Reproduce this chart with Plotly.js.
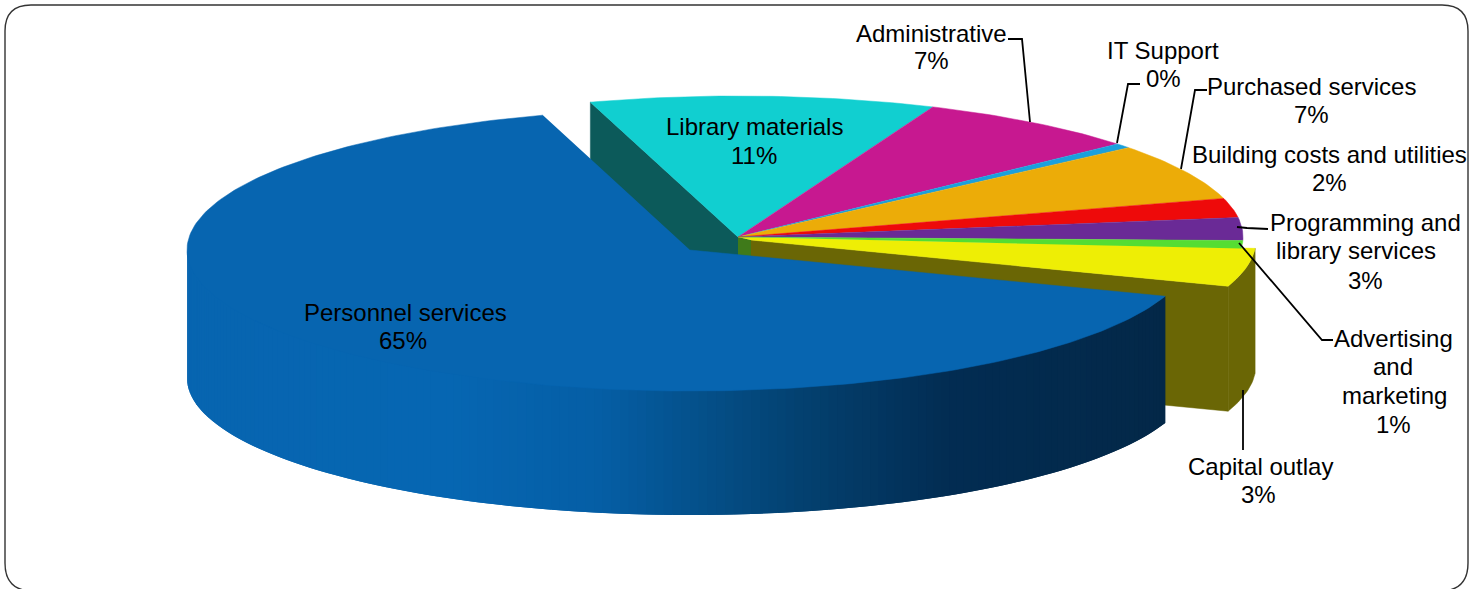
<!DOCTYPE html>
<html>
<head>
<meta charset="utf-8">
<script src="https://cdn.plot.ly/plotly-3.0.1.min.js"></script>
<style>html,body{margin:0;padding:0;background:#fff}#chart{width:1475px;height:589px}</style>
</head>
<body>
<div id="chart"></div>
<script>
// Slices, clockwise from the Library materials leading edge
var categories = ['Library materials','Administrative','IT Support','Purchased services','Building costs and utilities','Programming and library services','Advertising and marketing','Capital outlay','Personnel services'];
var shares = [11.0, 7.2, 0.55, 6.5, 2.2, 2.6, 0.9, 4.0, 64.8];
var percentLabels = ['11%','7%','0%','7%','2%','3%','1%','3%','65%'];
var topColors = ['#11cfd0','#c71890','#1aa0dd','#ecac08','#ee0a0a','#6a2a96','#55dd33','#eeee05','#0765b0'];

// Text lines: text, centre x, centre y
var labelText = ['Personnel services','65%','Library materials','11%','Administrative','7%','IT Support','0%','Purchased services','7%','Building costs and utilities','2%','Programming and','library services','3%','Advertising','and','marketing','1%','Capital outlay','3%'];
var labelX = [405,403,754,754,931,931,1163,1163,1311,1311,1329,1329,1365,1356,1365,1393,1393,1394,1393,1260,1258];
var labelY = [312,340,126,155,33,60,50,78,86,114,154,182,222,250,280,338,366,395,424,466,494];

// Leader lines
var leaderPaths = [
  'M1008,39 L1022,39 L1030,122',
  'M1140,84 L1128,84 L1117,143',
  'M1207,90 L1195,90 L1181,169',
  'M1268,229 L1247,228 L1237,227',
  'M1239,243 L1322,340 L1333,340',
  'M1243,390 L1243,450'
];

// Wall gradient for the large slice: screen x and colour
var wallStopX = [187,450,600,700,800,950,1165];
var wallStopColor = [[7,101,176],[6,102,178],[5,94,165],[4,80,138],[3,65,112],[2,44,82],[3,40,72]];

var startAngle = 107.0, rx = 505, ry = 141, depth = 125;
var hub = {x:738, y:237};
var capitalHub = {x:751, y:240, rx:505};
var personnelHub = {x:690, y:250, rx:503};
var capitalLead = 1.3;
var libraryWall = '#0c5a5a', hubWall = '#3f7a1a', capitalWall = '#6a6605';

var total = shares.reduce(function(a,b){return a+b;},0);
var bounds = [startAngle];
shares.forEach(function(s,i){ bounds.push(bounds[i]-s/total*360); });

function pt(c,r,deg){ var a=deg*Math.PI/180; return {x:c.x+r*Math.cos(a), y:c.y-ry*Math.sin(a)}; }
function arc(c,r,a0,a1){ var n=Math.max(2,Math.ceil(Math.abs(a1-a0))), o=[]; for(var i=0;i<=n;i++){ o.push(pt(c,r,a0+(a1-a0)*i/n)); } return o; }
function poly(points,color,lw){
  return {type:'scatter',mode:'lines',fill:'toself',fillcolor:color,
    x:points.map(function(p){return p.x;}),y:points.map(function(p){return p.y;}),
    line:{color:color,width:lw===undefined?0.5:lw,shape:'linear'},hoverinfo:'skip',showlegend:false};
}
function down(p,d){ return {x:p.x,y:p.y+d}; }
function wallColor(x){
  for(var i=0;i<wallStopX.length-1;i++){
    if(x<=wallStopX[i+1]){
      var t=Math.max(0,(x-wallStopX[i])/(wallStopX[i+1]-wallStopX[i]));
      var a=wallStopColor[i],b=wallStopColor[i+1];
      return 'rgb('+[0,1,2].map(function(k){return Math.round(a[k]+(b[k]-a[k])*t);}).join(',')+')';
    }
  }
  return 'rgb('+wallStopColor[wallStopColor.length-1].join(',')+')';
}
// the lower rim of the large slice is a slightly flatter ellipse than its top
function personnelDepth(p){ return 128-4*(p.y-personnelHub.y)/ry; }

var traces = [];
// library radial wall
var libEdge = pt(hub,rx,bounds[0]);
traces.push(poly([hub,libEdge,down(libEdge,depth),down(hub,depth)],libraryWall));
// hub wall
traces.push(poly([hub,capitalHub,down(capitalHub,depth),down(hub,depth)],hubWall));
// capital outlay walls
var capA0=bounds[7]+capitalLead, capA1=bounds[8];
var capTip=pt(capitalHub,capitalHub.rx,capA1);
traces.push(poly([capitalHub,capTip,down(capTip,depth),down(capitalHub,depth)],capitalWall));
var capArc=arc(capitalHub,capitalHub.rx,capA1,capA0);
traces.push(poly(capArc.concat(capArc.slice().reverse().map(function(p){return down(p,depth);})),capitalWall));
// top faces of small slices (capital first so its neighbour sits over it)
traces.push(poly([hub].concat(arc(capitalHub,capitalHub.rx,capA0,capA1)).concat([capitalHub]),topColors[7]));
for(var i=0;i<7;i++){
  traces.push(poly([hub].concat(arc(hub,rx,bounds[i],bounds[i+1])),topColors[i]));
}
// large slice wall: overlapping strips, left to right; upper edge tucked under the top face
var perA0=bounds[8], stripStep=1.0, overlap=1.0;
for(var a=-180;a<perA0;a+=stripStep){
  var hi=Math.min(a+stripStep+overlap,perA0);
  var mid=Math.min(a+stripStep,perA0);
  var samples=[a,mid,hi].map(function(d){return pt(personnelHub,personnelHub.rx,d);});
  var lower=samples.slice().reverse().map(function(p){return down(p,personnelDepth(p));});
  var tuck=(a<perA0-6)?3:0;
  var upper=samples.map(function(p){return down(p,-tuck);});
  traces.push(poly(upper.concat(lower),wallColor((samples[0].x+samples[1].x)/2),0));
}
// large slice top
traces.push(poly([personnelHub].concat(arc(personnelHub,personnelHub.rx,bounds[8],bounds[9])),topColors[8]));

var shapes = leaderPaths.map(function(p){
  return {type:'path',path:p,line:{color:'#000',width:1.8},layer:'above'};
});
shapes.push({type:'path',layer:'above',line:{color:'#333',width:1.4},
  path:'M31,5 L1442,5 Q1468,5 1468,31 L1468,563 Q1468,591 1440,591 L33,591 Q5,591 5,563 L5,31 Q5,5 31,5 Z'});

var annotations = labelText.map(function(t,i){
  return {text:t,x:labelX[i],y:labelY[i],xref:'x',yref:'y',showarrow:false,xanchor:'center',yanchor:'middle',
    font:{family:'"Liberation Sans", Arial, sans-serif',size:24,color:'#000'}};
});

Plotly.newPlot('chart',traces,{
  width:1475,height:589,margin:{l:0,r:0,t:0,b:0},
  paper_bgcolor:'#fff',plot_bgcolor:'#fff',showlegend:false,hovermode:false,
  xaxis:{range:[0,1475],visible:false,fixedrange:true},
  yaxis:{range:[589,0],visible:false,fixedrange:true},
  shapes:shapes,annotations:annotations
},{staticPlot:true,displayModeBar:false});
</script>
</body>
</html>
